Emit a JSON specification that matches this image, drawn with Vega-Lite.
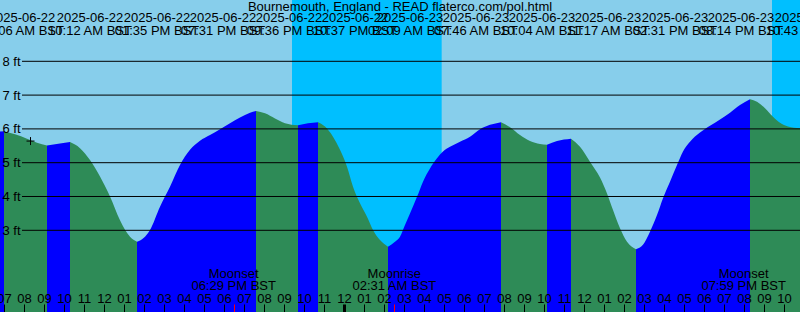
{
  "$schema": "https://vega.github.io/schema/vega-lite/v6.json",
  "width": 800,
  "height": 312,
  "autosize": {"type": "none"},
  "padding": 0,
  "background": "#87ceeb",
  "config": {"view": {"stroke": null}, "font": "Liberation Sans"},
  "title": {
    "text": "Bournemouth, England - READ flaterco.com/pol.html",
    "frame": "group",
    "anchor": "middle",
    "offset": -24.4,
    "baseline": "alphabetic",
    "fontSize": 13,
    "fontWeight": "normal",
    "color": "#000000",
    "font": "Liberation Sans"
  },
  "datasets": {
    "night": [
      {"start": "2025-06-22T21:24:00Z", "end": "2025-06-23T04:53:00Z"},
      {"start": "2025-06-23T21:24:00Z", "end": "2025-06-24T04:54:00Z"}
    ],
    "levels": [{"ft": 3}, {"ft": 4}, {"ft": 5}, {"ft": 6}, {"ft": 7}, {"ft": 8}],
    "marker": [{"t": "2025-06-22T08:19:30Z", "h": 5.64}],
    "moon": [
      {"t": "2025-06-22T18:29:00Z", "ev": "Moonset", "tm": "06:29 PM BST"},
      {"t": "2025-06-23T02:31:00Z", "ev": "Moonrise", "tm": "02:31 AM BST"},
      {"t": "2025-06-23T19:59:00Z", "ev": "Moonset", "tm": "07:59 PM BST"}
    ],
    "labels": [
      {"pos": "2025-06-22T07:54:00Z", "d": "2025-06-22", "tm": "09:06 AM BST"},
      {"pos": "2025-06-22T11:18:00Z", "d": "2025-06-22", "tm": "10:12 AM BST"},
      {"pos": "2025-06-22T14:39:00Z", "d": "2025-06-22", "tm": "01:35 PM BST"},
      {"pos": "2025-06-22T17:57:00Z", "d": "2025-06-22", "tm": "07:31 PM BST"},
      {"pos": "2025-06-22T21:15:00Z", "d": "2025-06-22", "tm": "09:36 PM BST"},
      {"pos": "2025-06-23T00:33:00Z", "d": "2025-06-22", "tm": "10:37 PM BST"},
      {"pos": "2025-06-23T03:18:00Z", "d": "2025-06-23", "tm": "02:09 AM BST"},
      {"pos": "2025-06-23T06:36:00Z", "d": "2025-06-23", "tm": "07:46 AM BST"},
      {"pos": "2025-06-23T09:54:00Z", "d": "2025-06-23", "tm": "10:04 AM BST"},
      {"pos": "2025-06-23T13:12:00Z", "d": "2025-06-23", "tm": "11:17 AM BST"},
      {"pos": "2025-06-23T16:33:00Z", "d": "2025-06-23", "tm": "02:31 PM BST"},
      {"pos": "2025-06-23T19:51:00Z", "d": "2025-06-23", "tm": "08:14 PM BST"},
      {"pos": "2025-06-23T23:12:00Z", "d": "2025-06-23", "tm": "10:43 PM BST"}
    ],
    "tide": [
      {"t": "2025-06-22T06:48:00Z", "h": 5.92, "seg": 0, "dir": "rising"},
      {"t": "2025-06-22T07:00:00Z", "h": 5.93, "seg": 0, "dir": "rising"},
      {"t": "2025-06-22T07:00:00Z", "h": 5.93, "seg": 1, "dir": "falling"},
      {"t": "2025-06-22T07:33:00Z", "h": 5.84, "seg": 1, "dir": "falling"},
      {"t": "2025-06-22T08:09:00Z", "h": 5.71, "seg": 1, "dir": "falling"},
      {"t": "2025-06-22T08:39:00Z", "h": 5.59, "seg": 1, "dir": "falling"},
      {"t": "2025-06-22T09:09:00Z", "h": 5.51, "seg": 1, "dir": "falling"},
      {"t": "2025-06-22T09:09:00Z", "h": 5.51, "seg": 2, "dir": "rising"},
      {"t": "2025-06-22T09:48:00Z", "h": 5.57, "seg": 2, "dir": "rising"},
      {"t": "2025-06-22T10:18:00Z", "h": 5.61, "seg": 2, "dir": "rising"},
      {"t": "2025-06-22T10:18:00Z", "h": 5.61, "seg": 3, "dir": "falling"},
      {"t": "2025-06-22T10:48:00Z", "h": 5.43, "seg": 3, "dir": "falling"},
      {"t": "2025-06-22T11:18:00Z", "h": 5.08, "seg": 3, "dir": "falling"},
      {"t": "2025-06-22T11:48:00Z", "h": 4.59, "seg": 3, "dir": "falling"},
      {"t": "2025-06-22T12:18:00Z", "h": 4.0, "seg": 3, "dir": "falling"},
      {"t": "2025-06-22T12:48:00Z", "h": 3.3, "seg": 3, "dir": "falling"},
      {"t": "2025-06-22T13:18:00Z", "h": 2.81, "seg": 3, "dir": "falling"},
      {"t": "2025-06-22T13:39:00Z", "h": 2.66, "seg": 3, "dir": "falling"},
      {"t": "2025-06-22T13:39:00Z", "h": 2.66, "seg": 4, "dir": "rising"},
      {"t": "2025-06-22T14:03:00Z", "h": 2.81, "seg": 4, "dir": "rising"},
      {"t": "2025-06-22T14:18:00Z", "h": 3.01, "seg": 4, "dir": "rising"},
      {"t": "2025-06-22T14:48:00Z", "h": 3.7, "seg": 4, "dir": "rising"},
      {"t": "2025-06-22T15:18:00Z", "h": 4.29, "seg": 4, "dir": "rising"},
      {"t": "2025-06-22T15:48:00Z", "h": 4.93, "seg": 4, "dir": "rising"},
      {"t": "2025-06-22T16:18:00Z", "h": 5.38, "seg": 4, "dir": "rising"},
      {"t": "2025-06-22T16:48:00Z", "h": 5.65, "seg": 4, "dir": "rising"},
      {"t": "2025-06-22T17:18:00Z", "h": 5.82, "seg": 4, "dir": "rising"},
      {"t": "2025-06-22T17:48:00Z", "h": 5.99, "seg": 4, "dir": "rising"},
      {"t": "2025-06-22T18:18:00Z", "h": 6.17, "seg": 4, "dir": "rising"},
      {"t": "2025-06-22T18:48:00Z", "h": 6.34, "seg": 4, "dir": "rising"},
      {"t": "2025-06-22T19:18:00Z", "h": 6.48, "seg": 4, "dir": "rising"},
      {"t": "2025-06-22T19:36:00Z", "h": 6.53, "seg": 4, "dir": "rising"},
      {"t": "2025-06-22T19:36:00Z", "h": 6.53, "seg": 5, "dir": "falling"},
      {"t": "2025-06-22T20:03:00Z", "h": 6.46, "seg": 5, "dir": "falling"},
      {"t": "2025-06-22T20:33:00Z", "h": 6.31, "seg": 5, "dir": "falling"},
      {"t": "2025-06-22T21:03:00Z", "h": 6.17, "seg": 5, "dir": "falling"},
      {"t": "2025-06-22T21:42:00Z", "h": 6.11, "seg": 5, "dir": "falling"},
      {"t": "2025-06-22T21:42:00Z", "h": 6.11, "seg": 6, "dir": "rising"},
      {"t": "2025-06-22T22:12:00Z", "h": 6.17, "seg": 6, "dir": "rising"},
      {"t": "2025-06-22T22:42:00Z", "h": 6.2, "seg": 6, "dir": "rising"},
      {"t": "2025-06-22T22:42:00Z", "h": 6.2, "seg": 7, "dir": "falling"},
      {"t": "2025-06-22T23:03:00Z", "h": 6.07, "seg": 7, "dir": "falling"},
      {"t": "2025-06-22T23:27:00Z", "h": 5.77, "seg": 7, "dir": "falling"},
      {"t": "2025-06-22T23:48:00Z", "h": 5.38, "seg": 7, "dir": "falling"},
      {"t": "2025-06-23T00:09:00Z", "h": 4.88, "seg": 7, "dir": "falling"},
      {"t": "2025-06-23T00:27:00Z", "h": 4.29, "seg": 7, "dir": "falling"},
      {"t": "2025-06-23T00:48:00Z", "h": 3.8, "seg": 7, "dir": "falling"},
      {"t": "2025-06-23T01:09:00Z", "h": 3.4, "seg": 7, "dir": "falling"},
      {"t": "2025-06-23T01:27:00Z", "h": 3.01, "seg": 7, "dir": "falling"},
      {"t": "2025-06-23T01:48:00Z", "h": 2.71, "seg": 7, "dir": "falling"},
      {"t": "2025-06-23T02:12:00Z", "h": 2.51, "seg": 7, "dir": "falling"},
      {"t": "2025-06-23T02:12:00Z", "h": 2.51, "seg": 8, "dir": "rising"},
      {"t": "2025-06-23T02:33:00Z", "h": 2.66, "seg": 8, "dir": "rising"},
      {"t": "2025-06-23T02:48:00Z", "h": 2.81, "seg": 8, "dir": "rising"},
      {"t": "2025-06-23T03:03:00Z", "h": 3.16, "seg": 8, "dir": "rising"},
      {"t": "2025-06-23T03:18:00Z", "h": 3.5, "seg": 8, "dir": "rising"},
      {"t": "2025-06-23T03:39:00Z", "h": 3.99, "seg": 8, "dir": "rising"},
      {"t": "2025-06-23T03:57:00Z", "h": 4.44, "seg": 8, "dir": "rising"},
      {"t": "2025-06-23T04:18:00Z", "h": 4.83, "seg": 8, "dir": "rising"},
      {"t": "2025-06-23T04:39:00Z", "h": 5.13, "seg": 8, "dir": "rising"},
      {"t": "2025-06-23T04:57:00Z", "h": 5.33, "seg": 8, "dir": "rising"},
      {"t": "2025-06-23T05:18:00Z", "h": 5.47, "seg": 8, "dir": "rising"},
      {"t": "2025-06-23T05:48:00Z", "h": 5.62, "seg": 8, "dir": "rising"},
      {"t": "2025-06-23T06:18:00Z", "h": 5.77, "seg": 8, "dir": "rising"},
      {"t": "2025-06-23T06:48:00Z", "h": 5.99, "seg": 8, "dir": "rising"},
      {"t": "2025-06-23T07:18:00Z", "h": 6.12, "seg": 8, "dir": "rising"},
      {"t": "2025-06-23T07:51:00Z", "h": 6.2, "seg": 8, "dir": "rising"},
      {"t": "2025-06-23T07:51:00Z", "h": 6.2, "seg": 9, "dir": "falling"},
      {"t": "2025-06-23T08:18:00Z", "h": 6.05, "seg": 9, "dir": "falling"},
      {"t": "2025-06-23T08:48:00Z", "h": 5.82, "seg": 9, "dir": "falling"},
      {"t": "2025-06-23T09:18:00Z", "h": 5.64, "seg": 9, "dir": "falling"},
      {"t": "2025-06-23T09:48:00Z", "h": 5.55, "seg": 9, "dir": "falling"},
      {"t": "2025-06-23T10:09:00Z", "h": 5.53, "seg": 9, "dir": "falling"},
      {"t": "2025-06-23T10:09:00Z", "h": 5.53, "seg": 10, "dir": "rising"},
      {"t": "2025-06-23T10:39:00Z", "h": 5.64, "seg": 10, "dir": "rising"},
      {"t": "2025-06-23T11:21:00Z", "h": 5.71, "seg": 10, "dir": "rising"},
      {"t": "2025-06-23T11:21:00Z", "h": 5.71, "seg": 11, "dir": "falling"},
      {"t": "2025-06-23T11:48:00Z", "h": 5.47, "seg": 11, "dir": "falling"},
      {"t": "2025-06-23T12:18:00Z", "h": 5.03, "seg": 11, "dir": "falling"},
      {"t": "2025-06-23T12:48:00Z", "h": 4.56, "seg": 11, "dir": "falling"},
      {"t": "2025-06-23T13:09:00Z", "h": 4.09, "seg": 11, "dir": "falling"},
      {"t": "2025-06-23T13:27:00Z", "h": 3.6, "seg": 11, "dir": "falling"},
      {"t": "2025-06-23T13:48:00Z", "h": 3.06, "seg": 11, "dir": "falling"},
      {"t": "2025-06-23T14:09:00Z", "h": 2.66, "seg": 11, "dir": "falling"},
      {"t": "2025-06-23T14:36:00Z", "h": 2.44, "seg": 11, "dir": "falling"},
      {"t": "2025-06-23T14:36:00Z", "h": 2.44, "seg": 12, "dir": "rising"},
      {"t": "2025-06-23T14:57:00Z", "h": 2.57, "seg": 12, "dir": "rising"},
      {"t": "2025-06-23T15:18:00Z", "h": 2.96, "seg": 12, "dir": "rising"},
      {"t": "2025-06-23T15:39:00Z", "h": 3.45, "seg": 12, "dir": "rising"},
      {"t": "2025-06-23T15:57:00Z", "h": 3.95, "seg": 12, "dir": "rising"},
      {"t": "2025-06-23T16:18:00Z", "h": 4.44, "seg": 12, "dir": "rising"},
      {"t": "2025-06-23T16:39:00Z", "h": 4.93, "seg": 12, "dir": "rising"},
      {"t": "2025-06-23T16:57:00Z", "h": 5.33, "seg": 12, "dir": "rising"},
      {"t": "2025-06-23T17:18:00Z", "h": 5.62, "seg": 12, "dir": "rising"},
      {"t": "2025-06-23T17:48:00Z", "h": 5.89, "seg": 12, "dir": "rising"},
      {"t": "2025-06-23T18:18:00Z", "h": 6.09, "seg": 12, "dir": "rising"},
      {"t": "2025-06-23T18:48:00Z", "h": 6.28, "seg": 12, "dir": "rising"},
      {"t": "2025-06-23T19:18:00Z", "h": 6.48, "seg": 12, "dir": "rising"},
      {"t": "2025-06-23T19:48:00Z", "h": 6.71, "seg": 12, "dir": "rising"},
      {"t": "2025-06-23T20:18:00Z", "h": 6.88, "seg": 12, "dir": "rising"},
      {"t": "2025-06-23T20:18:00Z", "h": 6.88, "seg": 13, "dir": "falling"},
      {"t": "2025-06-23T20:39:00Z", "h": 6.8, "seg": 13, "dir": "falling"},
      {"t": "2025-06-23T21:03:00Z", "h": 6.61, "seg": 13, "dir": "falling"},
      {"t": "2025-06-23T21:27:00Z", "h": 6.36, "seg": 13, "dir": "falling"},
      {"t": "2025-06-23T21:48:00Z", "h": 6.18, "seg": 13, "dir": "falling"},
      {"t": "2025-06-23T22:12:00Z", "h": 6.07, "seg": 13, "dir": "falling"},
      {"t": "2025-06-23T22:48:00Z", "h": 6.02, "seg": 13, "dir": "falling"}
    ]
  },
  "layer": [
    {
      "data": {"name": "night"},
      "mark": {"type": "rect", "color": "#00bfff", "clip": true},
      "encoding": {
        "x": {"field": "start", "type": "temporal", "scale": {"type": "utc", "domain": ["2025-06-22T06:48:00Z", "2025-06-23T22:48:00Z"]}},
        "x2": {"field": "end"}
      }
    },
    {
      "data": {"name": "tide"},
      "mark": {"type": "area", "interpolate": "monotone", "clip": true},
      "encoding": {
        "x": {
          "field": "t", "type": "temporal",
          "scale": {"type": "utc", "domain": ["2025-06-22T06:48:00Z", "2025-06-23T22:48:00Z"]},
          "axis": {
            "orient": "bottom",
            "offset": -8,
            "tickCount": 200,
            "values": [1750575600000, 1750579200000, 1750582800000, 1750586400000, 1750590000000, 1750593600000, 1750597200000, 1750600800000, 1750604400000, 1750608000000, 1750611600000, 1750615200000, 1750618800000, 1750622400000, 1750626000000, 1750629600000, 1750633200000, 1750636800000, 1750640400000, 1750644000000, 1750647600000, 1750651200000, 1750654800000, 1750658400000, 1750662000000, 1750665600000, 1750669200000, 1750672800000, 1750676400000, 1750680000000, 1750683600000, 1750687200000, 1750690800000, 1750694400000, 1750698000000, 1750701600000, 1750705200000, 1750708800000, 1750712400000, 1750716000000, 1750719600000, 1750616940000, 1750645860000, 1750708740000],
            "labelExpr": "utcminutes(datum.value) != 0 ? '' : utcFormat(datum.value, '%I')",
            "tickSize": 8,
            "tickColor": {"condition": {"test": "utcminutes(datum.value) != 0", "value": "#ff0000"}, "value": "#000000"},
            "tickWidth": {"condition": {"test": "utchours(datum.value) == 0 && utcminutes(datum.value) == 0", "value": 3}, "value": 1},
            "domain": false,
            "grid": false,
            "labelPadding": -10,
            "labelBaseline": "alphabetic",
            "labelFlush": false,
            "labelOverlap": false,
            "labelFontSize": 13,
            "labelFont": "Liberation Sans",
            "labelColor": "#000000",
            "title": null,
            "zindex": 1
          }
        },
        "y": {
          "field": "h", "type": "quantitative", "stack": null,
          "scale": {"domain": [0.5828, 9.8136], "nice": false, "zero": false},
          "axis": {
            "orient": "left",
            "offset": -22,
            "values": [3, 4, 5, 6, 7, 8],
            "labelExpr": "datum.value + ' ft'",
            "ticks": false,
            "domain": false,
            "grid": false,
            "labelPadding": 2,
            "labelFontSize": 13,
            "labelFont": "Liberation Sans",
            "labelColor": "#000000",
            "labelAlign": "right",
            "labelBaseline": "middle",
            "title": null,
            "zindex": 1
          }
        },
        "color": {"field": "dir", "type": "nominal", "scale": {"domain": ["rising", "falling"], "range": ["#0000ff", "#2e8b57"]}, "legend": null},
        "detail": {"field": "seg"}
      }
    },
    {
      "data": {"name": "levels"},
      "mark": {"type": "rule", "color": "#000000", "strokeWidth": 1, "clip": true},
      "encoding": {
        "y": {"field": "ft", "type": "quantitative", "scale": {"domain": [0.5828, 9.8136], "nice": false, "zero": false}},
        "x": {"datum": {"year": 2025, "month": 6, "date": 22, "hours": 7, "minutes": 54, "utc": true}, "type": "temporal", "scale": {"type": "utc", "domain": ["2025-06-22T06:48:00Z", "2025-06-23T22:48:00Z"]}},
        "x2": {"datum": {"year": 2025, "month": 6, "date": 23, "hours": 23, "minutes": 0, "utc": true}}
      }
    },
    {
      "data": {"name": "marker"},
      "mark": {"type": "point", "shape": "M-1,0H1M0,-1V1", "size": 64, "filled": false, "stroke": "#000000", "strokeWidth": 1, "opacity": 1},
      "encoding": {
        "x": {"field": "t", "type": "temporal", "scale": {"type": "utc", "domain": ["2025-06-22T06:48:00Z", "2025-06-23T22:48:00Z"]}},
        "y": {"field": "h", "type": "quantitative", "scale": {"domain": [0.5828, 9.8136], "nice": false, "zero": false}}
      }
    },
    {
      "data": {"name": "moon"},
      "mark": {"type": "text", "font": "Liberation Sans", "fontSize": 13, "color": "#000000", "baseline": "alphabetic", "align": "center"},
      "encoding": {
        "x": {"field": "t", "type": "temporal", "scale": {"type": "utc", "domain": ["2025-06-22T06:48:00Z", "2025-06-23T22:48:00Z"]}},
        "y": {"datum": 1.589, "type": "quantitative", "scale": {"domain": [0.5828, 9.8136], "nice": false, "zero": false}},
        "text": {"field": "ev"}
      }
    },
    {
      "data": {"name": "moon"},
      "mark": {"type": "text", "font": "Liberation Sans", "fontSize": 13, "color": "#000000", "baseline": "alphabetic", "align": "center"},
      "encoding": {
        "x": {"field": "t", "type": "temporal", "scale": {"type": "utc", "domain": ["2025-06-22T06:48:00Z", "2025-06-23T22:48:00Z"]}},
        "y": {"datum": 1.234, "type": "quantitative", "scale": {"domain": [0.5828, 9.8136], "nice": false, "zero": false}},
        "text": {"field": "tm"}
      }
    },
    {
      "data": {"name": "labels"},
      "mark": {"type": "text", "font": "Liberation Sans", "fontSize": 13, "color": "#000000", "baseline": "alphabetic", "align": "center"},
      "encoding": {
        "x": {"field": "pos", "type": "temporal", "scale": {"type": "utc", "domain": ["2025-06-22T06:48:00Z", "2025-06-23T22:48:00Z"]}},
        "y": {"datum": 9.154, "type": "quantitative", "scale": {"domain": [0.5828, 9.8136], "nice": false, "zero": false}},
        "text": {"field": "d"}
      }
    },
    {
      "data": {"name": "labels"},
      "mark": {"type": "text", "font": "Liberation Sans", "fontSize": 13, "color": "#000000", "baseline": "alphabetic", "align": "center"},
      "encoding": {
        "x": {"field": "pos", "type": "temporal", "scale": {"type": "utc", "domain": ["2025-06-22T06:48:00Z", "2025-06-23T22:48:00Z"]}},
        "y": {"datum": 8.778, "type": "quantitative", "scale": {"domain": [0.5828, 9.8136], "nice": false, "zero": false}},
        "text": {"field": "tm"}
      }
    }
  ]
}
